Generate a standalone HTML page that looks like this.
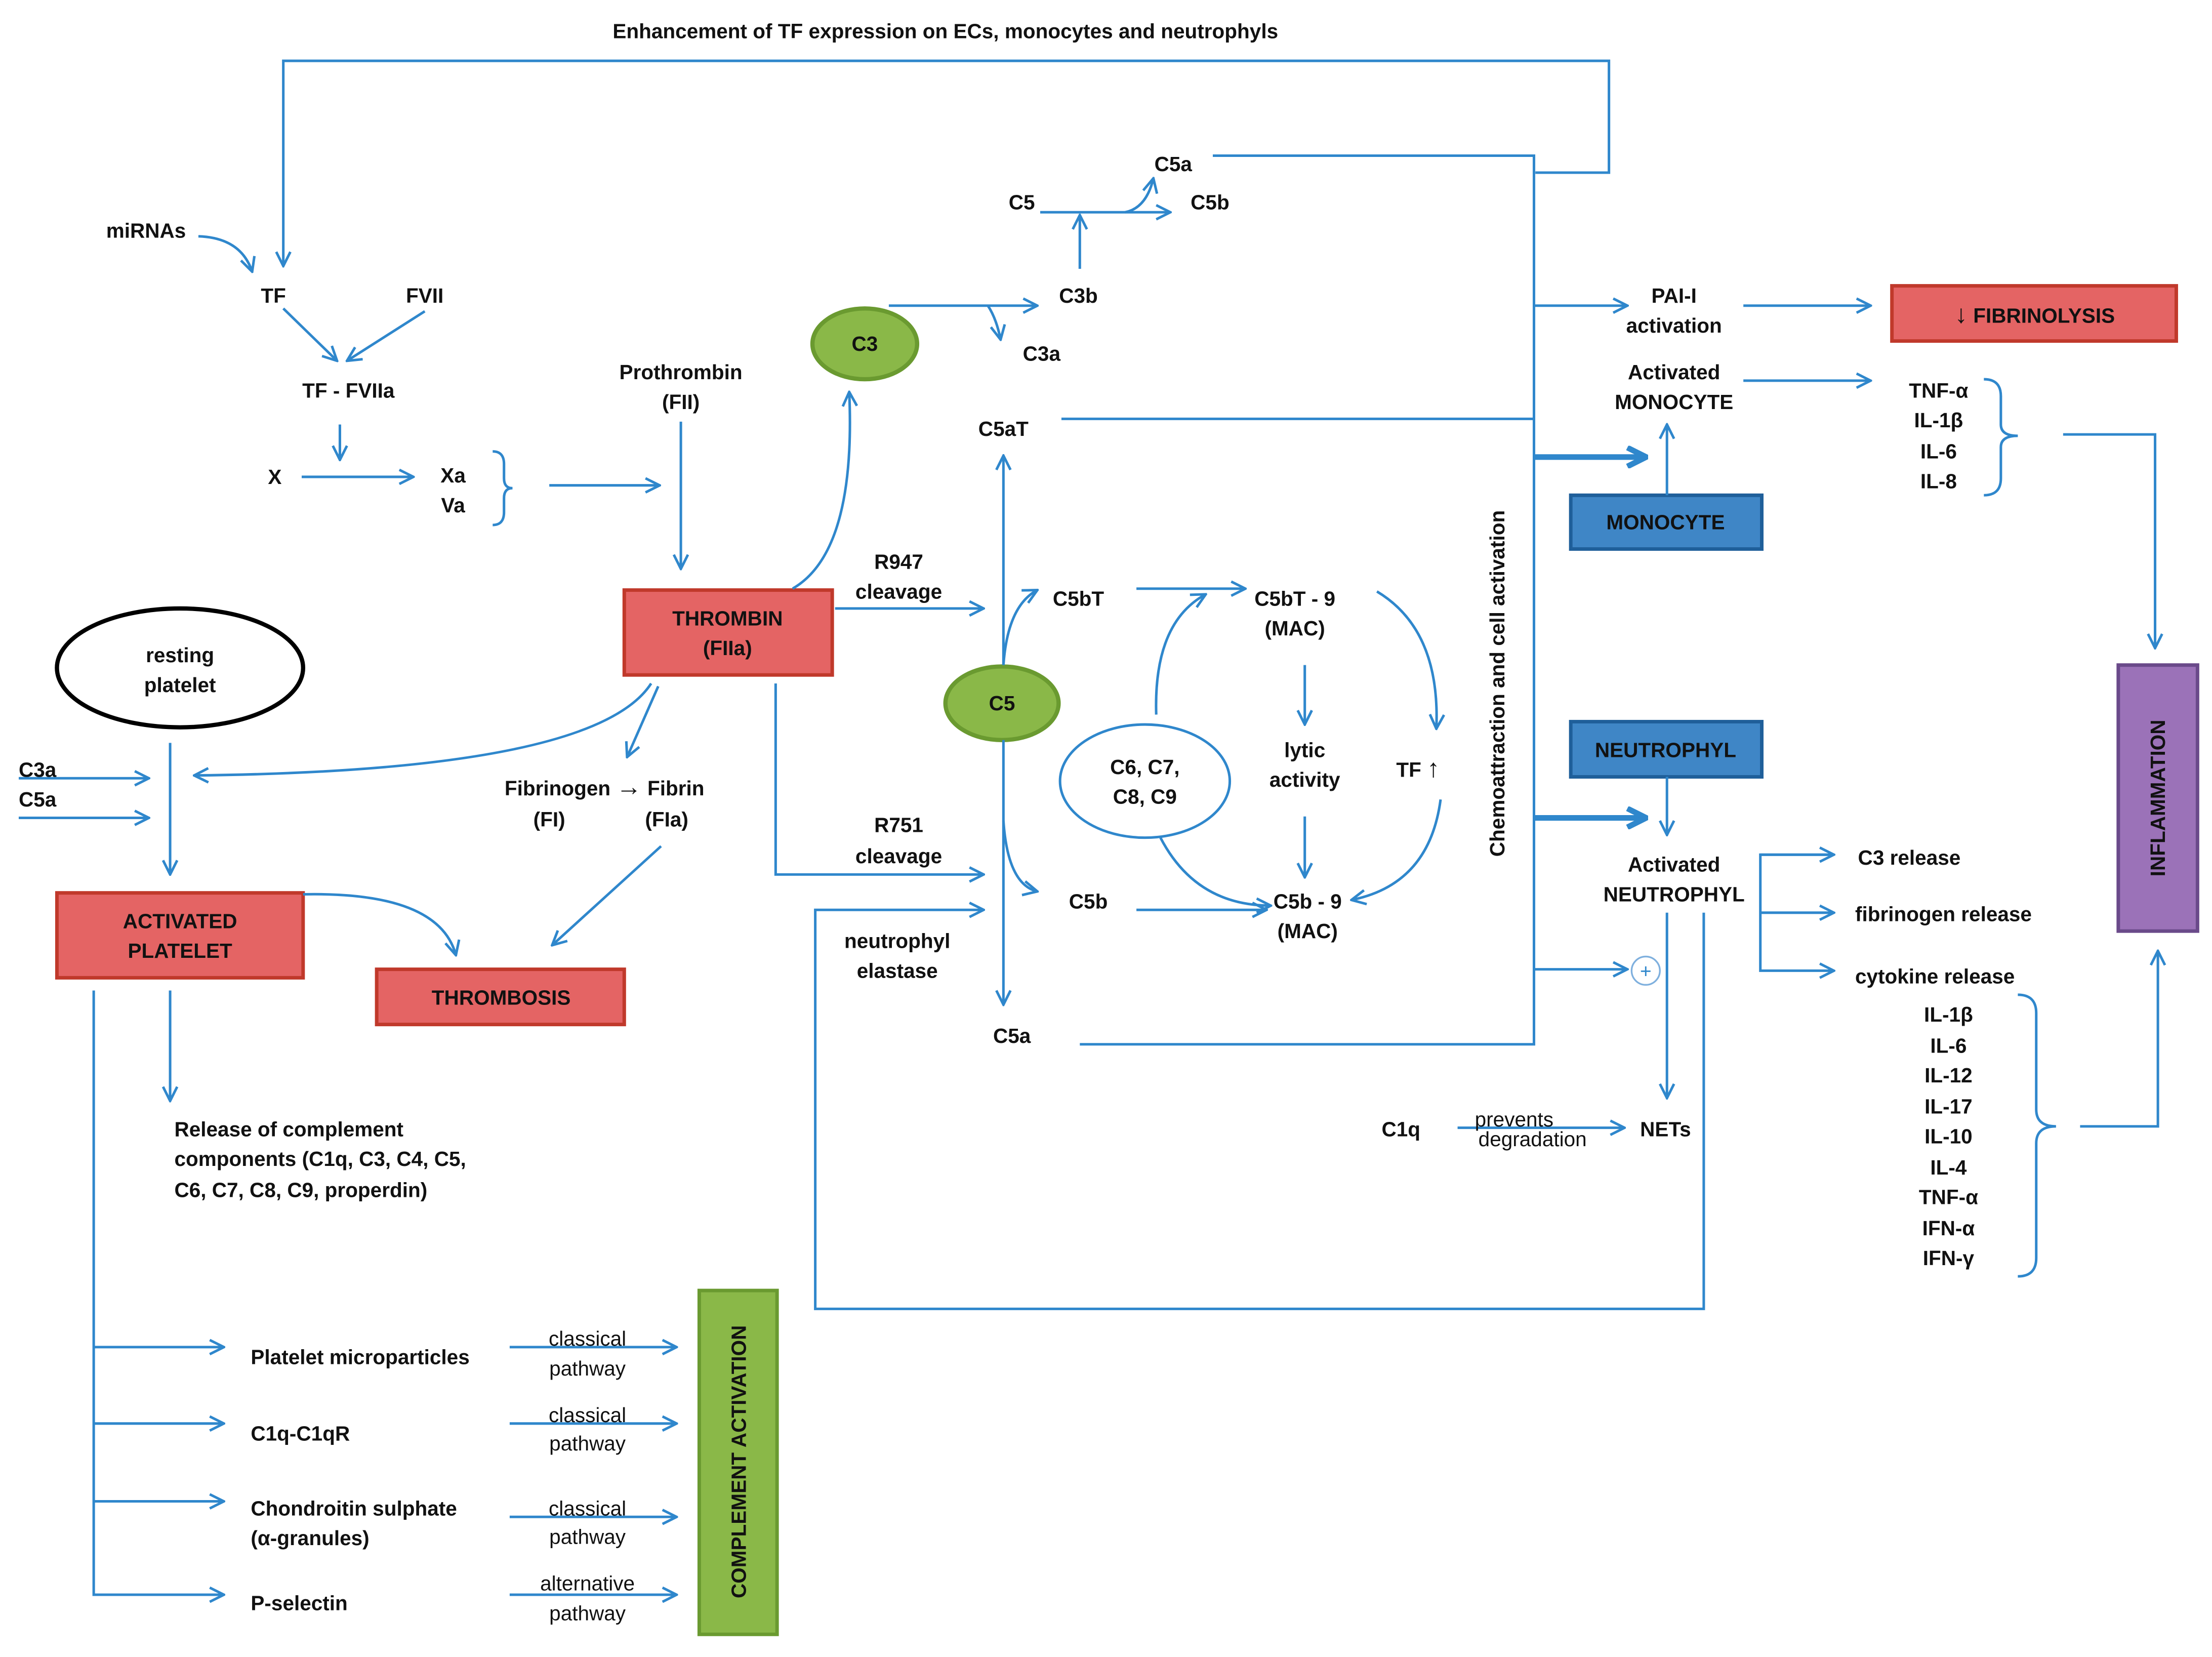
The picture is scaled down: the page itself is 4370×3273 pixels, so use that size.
<!DOCTYPE html>
<html><head><meta charset="utf-8"><style>
html,body{margin:0;padding:0;background:#fff;}
svg{display:block;}
text{font-family:"Liberation Sans",sans-serif;font-size:14.5px;font-weight:bold;fill:#111;}
.n{font-weight:normal;}
.l{stroke:#2f87cc;stroke-width:1.8;fill:none;}
.big{font-size:18px;}
</style></head><body>
<svg width="4370" height="3273" viewBox="0 0 1563 1171" xmlns="http://www.w3.org/2000/svg">
<defs>
<marker id="a" viewBox="0 0 12 12" refX="11" refY="6" markerWidth="12" markerHeight="12" markerUnits="userSpaceOnUse" orient="auto"><path d="M1,1 L11,6 L1,11" stroke="#2f87cc" stroke-width="1.8" fill="none"/></marker>
<marker id="b" viewBox="0 0 12 12" refX="10" refY="6" markerWidth="16" markerHeight="16" markerUnits="userSpaceOnUse" orient="auto"><path d="M1,1 L11,6 L1,11" stroke="#2f87cc" stroke-width="3" fill="none"/></marker>
</defs>
<rect width="1563" height="1171" fill="#fff"/>
<text x="668" y="27" text-anchor="middle">Enhancement of TF expression on ECs, monocytes and neutrophyls</text>
<path class="l" d="M1085,122 H1137 V43 H200 V188" marker-end="url(#a)"/>
<path class="l" d="M857,110 H1084 V738 H763"/>
<path class="l" d="M750,296 H1084"/>
<path class="l" d="M1084,216 H1150" marker-end="url(#a)"/>
<path class="l" d="M1084,323 H1162" style="stroke-width:4" marker-end="url(#b)"/>
<path class="l" d="M1084,578 H1162" style="stroke-width:4" marker-end="url(#b)"/>
<path class="l" d="M1084,685 H1150" marker-end="url(#a)"/>
<circle cx="1163" cy="686" r="10" fill="#fff" stroke="#7fb0de" stroke-width="1.2"/>
<text x="1163" y="691" text-anchor="middle" class="n" style="fill:#2f87cc;font-size:14px">+</text>
<text x="1183" y="214" text-anchor="middle">PAI-I</text><text x="1183" y="235" text-anchor="middle">activation</text>
<path class="l" d="M1232,216 H1322" marker-end="url(#a)"/>
<rect x="1337" y="202" width="201" height="39" fill="#e46464" stroke="#c0392b" stroke-width="2.5"/>
<text x="1438" y="228" text-anchor="middle"><tspan class="big">↓</tspan> FIBRINOLYSIS</text>
<text x="1183" y="268" text-anchor="middle">Activated</text><text x="1183" y="289" text-anchor="middle">MONOCYTE</text>
<path class="l" d="M1232,269 H1322" marker-end="url(#a)"/>
<text x="1370" y="281" text-anchor="middle">TNF-α</text><text x="1370" y="302" text-anchor="middle">IL-1β</text><text x="1370" y="324" text-anchor="middle">IL-6</text><text x="1370" y="345" text-anchor="middle">IL-8</text>
<path class="l" d="M1402,268 Q1414,268 1414,280 V300 Q1414,308 1426,308 Q1414,308 1414,316 V338 Q1414,350 1402,350"/>
<path class="l" d="M1458,307 H1523 V458" marker-end="url(#a)"/>
<rect x="1110" y="350" width="135" height="38" fill="#3f86c6" stroke="#1f5f9a" stroke-width="2.5"/>
<text x="1177" y="374" text-anchor="middle">MONOCYTE</text>
<path class="l" d="M1178,350 V300" marker-end="url(#a)"/>
<rect x="1497" y="470" width="56" height="188" fill="#9b72b8" stroke="#6a4a8a" stroke-width="2.5"/>
<text transform="translate(1530,564) rotate(-90)" text-anchor="middle">INFLAMMATION</text>
<rect x="1110" y="510" width="135" height="39" fill="#3f86c6" stroke="#1f5f9a" stroke-width="2.5"/>
<text x="1177" y="535" text-anchor="middle">NEUTROPHYL</text>
<path class="l" d="M1178,549 V590" marker-end="url(#a)"/>
<text x="1183" y="616" text-anchor="middle">Activated</text><text x="1183" y="637" text-anchor="middle">NEUTROPHYL</text>
<path class="l" d="M1296,604 H1244 V686 H1296" marker-end="url(#a)"/>
<path class="l" d="M1244,604 H1296" marker-end="url(#a)"/>
<path class="l" d="M1244,645 H1296" marker-end="url(#a)"/>
<text x="1313" y="611">C3 release</text><text x="1311" y="651">fibrinogen release</text><text x="1311" y="695">cytokine release</text>
<text x="1377" y="722" text-anchor="middle">IL-1β</text><text x="1377" y="744" text-anchor="middle">IL-6</text><text x="1377" y="765" text-anchor="middle">IL-12</text><text x="1377" y="787" text-anchor="middle">IL-17</text><text x="1377" y="808" text-anchor="middle">IL-10</text><text x="1377" y="830" text-anchor="middle">IL-4</text><text x="1377" y="851" text-anchor="middle">TNF-α</text><text x="1377" y="873" text-anchor="middle">IFN-α</text><text x="1377" y="894" text-anchor="middle">IFN-γ</text>
<path class="l" d="M1426,703 Q1439,703 1439,716 V784 Q1439,796 1453,796 Q1439,796 1439,808 V889 Q1439,902 1426,902"/>
<path class="l" d="M1470,796 H1525 V672" marker-end="url(#a)"/>
<path class="l" d="M1178,645 V776" marker-end="url(#a)"/>
<text x="1177" y="803" text-anchor="middle">NETs</text>
<text x="990" y="803" text-anchor="middle">C1q</text>
<path class="l" d="M1030,797 H1148" marker-end="url(#a)"/>
<text x="1070" y="796" text-anchor="middle" class="n">prevents</text><text x="1083" y="810" text-anchor="middle" class="n">degradation</text>
<path class="l" d="M1204,645 V925 H576 V643 H695" marker-end="url(#a)"/>
<text transform="translate(1063,483) rotate(-90)" text-anchor="middle">Chemoattraction  and cell activation</text>
<ellipse cx="708" cy="497" rx="40" ry="26" fill="#8ab848" stroke="#6a9a30" stroke-width="3"/>
<text x="708" y="502" text-anchor="middle">C5</text>
<ellipse cx="611" cy="243" rx="37" ry="25" fill="#8ab848" stroke="#6a9a30" stroke-width="3"/>
<text x="611" y="248" text-anchor="middle">C3</text>
<path class="l" d="M709,470 V322" marker-end="url(#a)"/>
<text x="709" y="308" text-anchor="middle">C5aT</text>
<path class="l" d="M709,523 V710" marker-end="url(#a)"/>
<text x="715" y="737" text-anchor="middle">C5a</text>
<path class="l" d="M709,470 Q712,428 733,417" marker-end="url(#a)"/>
<path class="l" d="M709,580 Q712,625 733,630" marker-end="url(#a)"/>
<text x="635" y="402" text-anchor="middle">R947</text><text x="635" y="423" text-anchor="middle">cleavage</text>
<path class="l" d="M590,430 H695" marker-end="url(#a)"/>
<text x="635" y="588" text-anchor="middle">R751</text><text x="635" y="610" text-anchor="middle">cleavage</text>
<path class="l" d="M548,483 V618 H695" marker-end="url(#a)"/>
<text x="634" y="670" text-anchor="middle">neutrophyl</text><text x="634" y="691" text-anchor="middle">elastase</text>
<text x="762" y="428" text-anchor="middle">C5bT</text>
<path class="l" d="M803,416 H880" marker-end="url(#a)"/>
<text x="915" y="428" text-anchor="middle">C5bT - 9</text><text x="915" y="449" text-anchor="middle">(MAC)</text>
<ellipse cx="809" cy="552" rx="60" ry="40" fill="#fff" stroke="#2f87cc" stroke-width="1.8"/>
<text x="809" y="547" text-anchor="middle">C6, C7,</text><text x="809" y="568" text-anchor="middle">C8, C9</text>
<path class="l" d="M817,505 Q815,440 852,420" marker-end="url(#a)"/>
<path class="l" d="M820,592 Q845,640 898,640" marker-end="url(#a)"/>
<text x="922" y="535" text-anchor="middle">lytic</text><text x="922" y="556" text-anchor="middle">activity</text>
<path class="l" d="M922,470 V512" marker-end="url(#a)"/>
<path class="l" d="M922,577 V620" marker-end="url(#a)"/>
<text x="769" y="642" text-anchor="middle">C5b</text>
<path class="l" d="M803,643 H895" marker-end="url(#a)"/>
<text x="924" y="642" text-anchor="middle">C5b - 9</text><text x="924" y="663" text-anchor="middle">(MAC)</text>
<path class="l" d="M973,418 Q1018,445 1015,515" marker-end="url(#a)"/>
<text x="1002" y="549" text-anchor="middle">TF <tspan class="big">↑</tspan></text>
<path class="l" d="M1018,565 Q1010,625 955,636" marker-end="url(#a)"/>
<path class="l" d="M628,216 H733" marker-end="url(#a)"/>
<path class="l" d="M698,216 Q704,225 707,240" marker-end="url(#a)"/>
<text x="762" y="214" text-anchor="middle">C3b</text><text x="736" y="255" text-anchor="middle">C3a</text>
<path class="l" d="M763,190 V152" marker-end="url(#a)"/>
<text x="722" y="148" text-anchor="middle">C5</text>
<path class="l" d="M735,150 H827" marker-end="url(#a)"/>
<path class="l" d="M795,150 Q810,147 815,126" marker-end="url(#a)"/>
<text x="829" y="121" text-anchor="middle">C5a</text><text x="855" y="148" text-anchor="middle">C5b</text>
<rect x="441" y="417" width="147" height="60" fill="#e46464" stroke="#c0392b" stroke-width="2.5"/>
<text x="514" y="442" text-anchor="middle">THROMBIN</text><text x="514" y="463" text-anchor="middle">(FIIa)</text>
<path class="l" d="M560,416 Q605,390 600,277" marker-end="url(#a)"/>
<text x="481" y="268" text-anchor="middle">Prothrombin</text><text x="481" y="289" text-anchor="middle">(FII)</text>
<path class="l" d="M481,298 V402" marker-end="url(#a)"/>
<text x="103" y="168" text-anchor="middle">miRNAs</text>
<path class="l" d="M140,167 Q170,168 178,192" marker-end="url(#a)"/>
<text x="193" y="214" text-anchor="middle">TF</text><text x="300" y="214" text-anchor="middle">FVII</text>
<path class="l" d="M200,218 L238,255" marker-end="url(#a)"/>
<path class="l" d="M300,220 L245,255" marker-end="url(#a)"/>
<text x="246" y="281" text-anchor="middle">TF - FVIIa</text>
<path class="l" d="M240,300 V325" marker-end="url(#a)"/>
<text x="194" y="342" text-anchor="middle">X</text>
<path class="l" d="M213,337 H292" marker-end="url(#a)"/>
<text x="320" y="341" text-anchor="middle">Xa</text><text x="320" y="362" text-anchor="middle">Va</text>
<path class="l" d="M348,319 Q356,319 356,328 V338 Q356,345 362,345 Q356,345 356,352 V362 Q356,371 348,371"/>
<path class="l" d="M388,343 H466" marker-end="url(#a)"/>
<ellipse cx="127" cy="472" rx="87" ry="42" fill="#fff" stroke="#000" stroke-width="3"/>
<text x="127" y="468" text-anchor="middle">resting</text><text x="127" y="489" text-anchor="middle">platelet</text>
<text x="13" y="549">C3a</text><text x="13" y="570">C5a</text>
<path class="l" d="M13,550 H105" marker-end="url(#a)"/>
<path class="l" d="M13,578 H105" marker-end="url(#a)"/>
<path class="l" d="M120,525 V618" marker-end="url(#a)"/>
<path class="l" d="M460,483 Q420,545 137,548" marker-end="url(#a)"/>
<path class="l" d="M465,485 L443,535" marker-end="url(#a)"/>
<text x="427" y="562" text-anchor="middle">Fibrinogen <tspan class="big">→</tspan> Fibrin</text>
<text x="388" y="584" text-anchor="middle">(FI)</text><text x="471" y="584" text-anchor="middle">(FIa)</text>
<path class="l" d="M467,598 L390,668" marker-end="url(#a)"/>
<rect x="40" y="631" width="174" height="60" fill="#e46464" stroke="#c0392b" stroke-width="2.5"/>
<text x="127" y="656" text-anchor="middle">ACTIVATED</text><text x="127" y="677" text-anchor="middle">PLATELET</text>
<path class="l" d="M214,632 Q310,630 322,675" marker-end="url(#a)"/>
<rect x="266" y="685" width="175" height="39" fill="#e46464" stroke="#c0392b" stroke-width="2.5"/>
<text x="354" y="710" text-anchor="middle">THROMBOSIS</text>
<path class="l" d="M120,700 V778" marker-end="url(#a)"/>
<text x="123" y="803">Release of complement</text><text x="123" y="824">components (C1q, C3, C4, C5,</text><text x="123" y="846">C6, C7, C8, C9, properdin)</text>
<path class="l" d="M66,700 V1127 H158" marker-end="url(#a)"/>
<path class="l" d="M66,952 H158" marker-end="url(#a)"/>
<path class="l" d="M66,1006 H158" marker-end="url(#a)"/>
<path class="l" d="M66,1061 H158" marker-end="url(#a)"/>
<text x="177" y="964">Platelet microparticles</text>
<text x="177" y="1018">C1q-C1qR</text>
<text x="177" y="1071">Chondroitin sulphate</text><text x="177" y="1092">(α-granules)</text>
<text x="177" y="1138">P-selectin</text>
<path class="l" d="M360,952 H478" marker-end="url(#a)"/>
<path class="l" d="M360,1006 H478" marker-end="url(#a)"/>
<path class="l" d="M360,1072 H478" marker-end="url(#a)"/>
<path class="l" d="M360,1127 H478" marker-end="url(#a)"/>
<text x="415" y="951" text-anchor="middle" class="n">classical</text><text x="415" y="972" text-anchor="middle" class="n">pathway</text>
<text x="415" y="1005" text-anchor="middle" class="n">classical</text><text x="415" y="1025" text-anchor="middle" class="n">pathway</text>
<text x="415" y="1071" text-anchor="middle" class="n">classical</text><text x="415" y="1091" text-anchor="middle" class="n">pathway</text>
<text x="415" y="1124" text-anchor="middle" class="n">alternative</text><text x="415" y="1145" text-anchor="middle" class="n">pathway</text>
<rect x="494" y="912" width="55" height="243" fill="#8ab848" stroke="#6a9a30" stroke-width="2.5"/>
<text transform="translate(527,1033) rotate(-90)" text-anchor="middle">COMPLEMENT ACTIVATION</text>
</svg>
</body></html>
